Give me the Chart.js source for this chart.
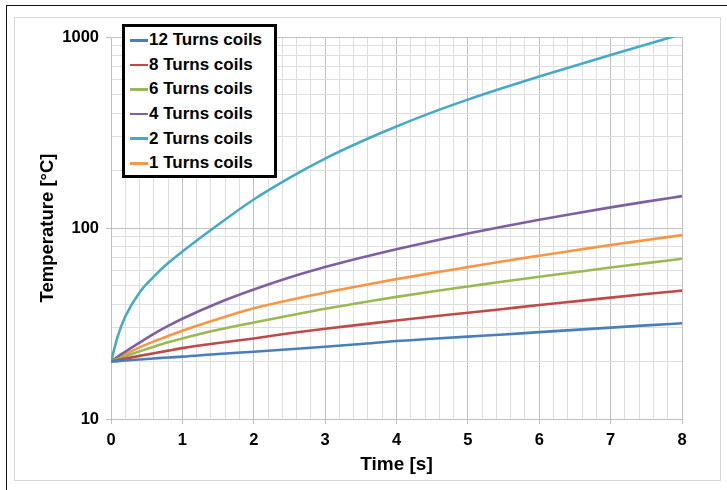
<!DOCTYPE html>
<html lang="en">
<head>
  <meta charset="UTF-8" />
  <title>Coil temperature vs time</title>
  <script src="https://cdn.jsdelivr.net/npm/chart.js"></script>
  <style>
    html, body {
      margin: 0;
      background: #ffffff;
      font-family: "Liberation Sans", Arial, sans-serif;
    }
    .wrap {
      position: relative;
      width: 727px;
      height: 490px;
      overflow: hidden;
    }
    .frame-top {
      position: absolute; left: 6px; top: 5px; width: 730px; height: 0;
      border-top: 1.5px solid #111;
    }
    .frame-left {
      position: absolute; left: 6px; top: 5px; width: 0; height: 490px;
      border-left: 1.5px solid #111;
    }
    .panel {
      position: absolute; left: 14px; top: 17px; width: 705px; height: 462px;
      border: 1.5px solid #d9d9d9;
    }
    canvas { position: absolute; left: 0; top: 0; }
    #legend {
      position: absolute;
      left: 122px; top: 24px;
      width: 149px; height: 147px;
      border: 3px solid #000;
      background: #fff;
      padding-top: 1px;
    }
    .item {
      height: 24.6px;
      display: flex;
      align-items: center;
      font-weight: bold;
      font-size: 17px;
      color: #000;
      white-space: nowrap;
    }
    .swatch {
      width: 18px; height: 2.5px;
      margin-left: 5px; margin-right: 1px;
    }
  </style>
</head>
<body>
  <div class="wrap">
    <div class="frame-top"></div>
    <div class="frame-left"></div>
    <div class="panel"></div>
    <canvas id="tempChart" width="727" height="490"></canvas>
    <div id="legend"></div>
  </div>

  <script>
    // time axis [s]
    const time = [0, 0.1, 0.2, 0.4, 0.6, 0.8, 1, 1.5, 2, 2.5, 3, 3.5, 4, 4.5, 5, 5.5, 6, 6.5, 7, 7.5, 8];

    // temperature [°C]
    const turns12 = [20, 20.1, 20.25, 20.5, 20.75, 21, 21.2, 21.9, 22.5, 23.2, 23.9, 24.7, 25.6, 26.3, 27, 27.7, 28.5, 29.3, 30.1, 30.9, 31.7];
    const turns8  = [20, 20.35, 20.7, 21.4, 22.1, 22.8, 23.5, 25.0, 26.4, 28.1, 29.7, 31.2, 32.8, 34.4, 36.0, 37.7, 39.5, 41.3, 43.2, 45.1, 47.0];
    const turns6  = [20, 20.7, 21.3, 22.6, 23.9, 25.2, 26.4, 29.3, 32.0, 34.8, 37.8, 40.6, 43.6, 46.5, 49.4, 52.5, 55.6, 58.7, 62.1, 65.5, 69.0];
    const turns4  = [20, 21.3, 22.5, 25.1, 27.9, 30.7, 33.5, 40.5, 47.6, 55.0, 62.4, 69.8, 77.4, 85.3, 93.5, 101.9, 110.4, 119.1, 128.2, 137.4, 146.9];
    const turns2  = [20, 27.5, 34.4, 46, 55.7, 65.5, 75.3, 104, 141, 183, 231, 283, 340, 403, 470, 542, 621, 708, 805, 914, 1035];
    const turns1  = [20, 20.9, 21.8, 23.7, 25.5, 27.2, 29.0, 33.4, 38.0, 42.0, 45.9, 49.9, 54.0, 58.1, 62.4, 67.0, 71.6, 76.4, 81.5, 86.5, 91.8];

    const seriesNames = ['12 Turns coils', '8 Turns coils', '6 Turns coils', '4 Turns coils', '2 Turns coils', '1 Turns coils'];
    const seriesData = [turns12, turns8, turns6, turns4, turns2, turns1];
    const seriesColors = ['#4a7ebb', '#be4b48', '#98b954', '#7d60a0', '#46aac5', '#f79646'];

    // axis ticks
    const xMin = 0, xMax = 8;
    const yTicks = [10, 20, 30, 40, 50, 60, 70, 80, 90, 100, 200, 300, 400, 500, 600, 700, 800, 900, 1000];
    const yLabels = [10, 100, 1000];

    const font = "'Liberation Sans', Arial, sans-serif";
    const majorGrid = '#c0c0c0';
    const minorGrid = '#dedede';
    const isWhole = (v) => Number.isInteger(Math.round(v * 1000) / 1000);

    const datasets = seriesNames.map((name, i) => ({
      label: name,
      data: time.map((t, j) => ({ x: t, y: seriesData[i][j] })),
      borderColor: seriesColors[i],
      backgroundColor: seriesColors[i],
      borderWidth: 2.6,
      pointRadius: 0,
      cubicInterpolationMode: 'monotone',
      fill: false
    }));

    const chart = new Chart(document.getElementById('tempChart'), {
      type: 'line',
      data: { datasets },
      options: {
        responsive: false,
        animation: false,
        layout: { padding: { left: 14, top: 37, right: 45, bottom: 10 } },
        plugins: {
          legend: { display: false },
          tooltip: { enabled: false }
        },
        scales: {
          x: {
            type: 'linear',
            min: xMin,
            max: xMax,
            afterFit: (s) => { s.height = 61; },
            ticks: {
              stepSize: 0.2,
              autoSkip: false,
              maxRotation: 0,
              padding: 7,
              color: '#000',
              font: { family: font, size: 16.5, weight: 'bold' },
              callback: (v) => isWhole(v) ? v : ''
            },
            grid: {
              color: (c) => isWhole(c.tick.value) ? majorGrid : minorGrid,
              tickColor: (c) => isWhole(c.tick.value) ? majorGrid : 'rgba(0,0,0,0)',
              tickLength: 5,
              lineWidth: 1
            },
            border: { color: majorGrid },
            title: {
              display: true,
              text: 'Time [s]',
              color: '#000',
              font: { family: font, size: 19, weight: 'bold' },
              padding: { top: 0, bottom: 4 }
            }
          },
          y: {
            type: 'logarithmic',
            min: 10,
            max: 1000,
            afterFit: (s) => { s.width = 97; },
            afterBuildTicks: (s) => {
              s.ticks = yTicks.map(v => ({ value: v, major: yLabels.includes(v) }));
            },
            ticks: {
              autoSkip: false,
              padding: 7,
              color: '#000',
              font: { family: font, size: 16.5, weight: 'bold' },
              callback: (v) => yLabels.includes(v) ? String(v) : ''
            },
            grid: {
              color: (c) => yLabels.includes(c.tick.value) ? majorGrid : minorGrid,
              tickColor: (c) => yLabels.includes(c.tick.value) ? majorGrid : 'rgba(0,0,0,0)',
              tickLength: 5,
              lineWidth: 1
            },
            border: { color: majorGrid },
            title: {
              display: true,
              text: 'Temperature [°C]',
              color: '#000',
              font: { family: font, size: 18.5, weight: 'bold' },
              padding: { top: 23, bottom: 0 }
            }
          }
        }
      }
    });

    // legend box inside the plot, built from the chart's datasets
    const legend = document.getElementById('legend');
    chart.data.datasets.forEach(ds => {
      const row = document.createElement('div');
      row.className = 'item';
      const sw = document.createElement('span');
      sw.className = 'swatch';
      sw.style.background = ds.borderColor;
      row.appendChild(sw);
      row.appendChild(document.createTextNode(ds.label));
      legend.appendChild(row);
    });
  </script>
</body>
</html>
